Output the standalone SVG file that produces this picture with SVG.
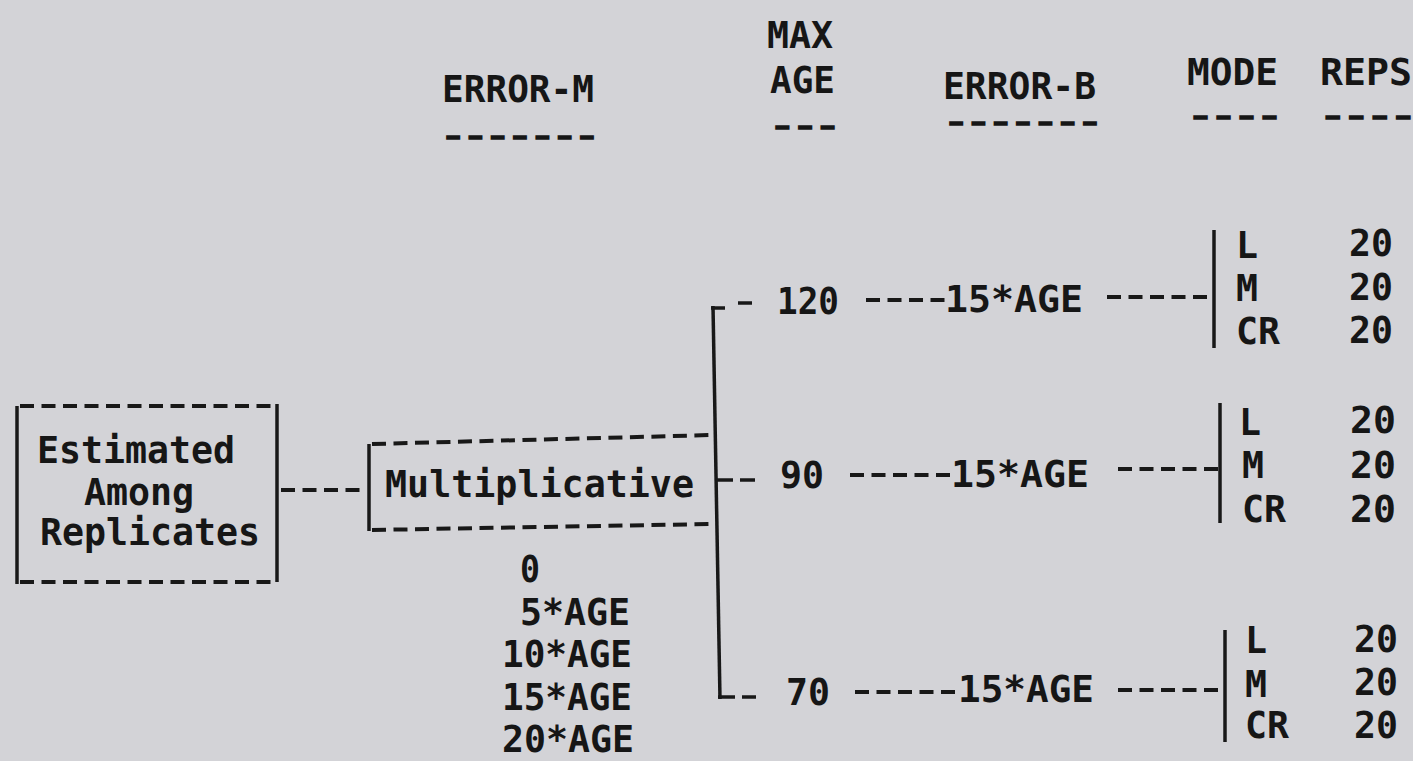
<svg xmlns="http://www.w3.org/2000/svg" width="1413" height="761" viewBox="0 0 1413 761">
  <style>
    .t { font-family: "DejaVu Sans Mono", "Liberation Mono", monospace; font-size: 38px; font-weight: bold; fill: #161616; }
    .u { font-family: "DejaVu Sans Mono", "Liberation Mono", monospace; font-size: 22px; font-weight: bold; fill: #161616; stroke: #161616; stroke-width: 1.6; }
    .solid { stroke: #181818; stroke-width: 3.5; fill: none; }
    .dash { stroke: #181818; stroke-width: 4; fill: none; stroke-dasharray: 14 7.5; }
  </style>
  <rect x="0" y="0" width="1413" height="761" fill="#d3d3d7"/>

  <g id="headers">
    <text class="t" x="442" y="102" textLength="152" lengthAdjust="spacingAndGlyphs">ERROR-M</text>
    <text class="u" x="442" y="144" textLength="156" lengthAdjust="spacingAndGlyphs">-------</text>
    <text class="t" x="767" y="48" textLength="66" lengthAdjust="spacingAndGlyphs">MAX</text>
    <text class="t" x="770" y="93" textLength="65" lengthAdjust="spacingAndGlyphs">AGE</text>
    <text class="u" x="771" y="134" textLength="68" lengthAdjust="spacingAndGlyphs">---</text>
    <text class="t" x="943" y="99" textLength="153" lengthAdjust="spacingAndGlyphs">ERROR-B</text>
    <text class="u" x="945" y="130" textLength="156" lengthAdjust="spacingAndGlyphs">-------</text>
    <text class="t" x="1187" y="85" textLength="91" lengthAdjust="spacingAndGlyphs">MODE</text>
    <text class="u" x="1189" y="124" textLength="92" lengthAdjust="spacingAndGlyphs">----</text>
    <text class="t" x="1320" y="85" textLength="92" lengthAdjust="spacingAndGlyphs">REPS</text>
    <text class="u" x="1321" y="124" textLength="94" lengthAdjust="spacingAndGlyphs">----</text>
  </g>

  <g id="node-estimated">
    <line class="dash" x1="20" y1="406" x2="277" y2="406"/>
    <line class="dash" x1="20" y1="582" x2="277" y2="582"/>
    <line class="solid" x1="17" y1="406" x2="17" y2="584"/>
    <line class="solid" x1="277" y1="404" x2="277" y2="582"/>
    <text class="t" x="37" y="463" textLength="198" lengthAdjust="spacingAndGlyphs">Estimated</text>
    <text class="t" x="84" y="505" textLength="110" lengthAdjust="spacingAndGlyphs">Among</text>
    <text class="t" x="40" y="545" textLength="220" lengthAdjust="spacingAndGlyphs">Replicates</text>
  </g>

  <g id="node-multiplicative">
    <line class="solid" x1="369" y1="444" x2="369" y2="531"/>
    <line class="dash" x1="372" y1="444" x2="713" y2="435"/>
    <line class="dash" x1="372" y1="530" x2="713" y2="524"/>
    <text class="t" x="385" y="497" textLength="309" lengthAdjust="spacingAndGlyphs">Multiplicative</text>
  </g>

  <g id="node-errorm-values">
    <text class="t" x="520" y="582" textLength="20" lengthAdjust="spacingAndGlyphs">0</text>
    <text class="t" x="520" y="625" textLength="110" lengthAdjust="spacingAndGlyphs">5*AGE</text>
    <text class="t" x="502" y="667" textLength="130" lengthAdjust="spacingAndGlyphs">10*AGE</text>
    <text class="t" x="502" y="710" textLength="130" lengthAdjust="spacingAndGlyphs">15*AGE</text>
    <text class="t" x="502" y="752" textLength="132" lengthAdjust="spacingAndGlyphs">20*AGE</text>
  </g>

  <g id="node-120">
    <text class="t" x="777" y="314" textLength="62" lengthAdjust="spacingAndGlyphs">120</text>
    <text class="t" x="945" y="312" textLength="138" lengthAdjust="spacingAndGlyphs">15*AGE</text>
  </g>
  <g id="node-90">
    <text class="t" x="780" y="488" textLength="44" lengthAdjust="spacingAndGlyphs">90</text>
    <text class="t" x="951" y="487" textLength="138" lengthAdjust="spacingAndGlyphs">15*AGE</text>
  </g>
  <g id="node-70">
    <text class="t" x="786" y="705" textLength="44" lengthAdjust="spacingAndGlyphs">70</text>
    <text class="t" x="958" y="702" textLength="136" lengthAdjust="spacingAndGlyphs">15*AGE</text>
  </g>

  <g id="node-modes-120">
    <line class="solid" x1="1214" y1="230" x2="1214" y2="348"/>
    <text class="t" x="1236" y="258" textLength="22" lengthAdjust="spacingAndGlyphs">L</text>
    <text class="t" x="1236" y="301" textLength="22" lengthAdjust="spacingAndGlyphs">M</text>
    <text class="t" x="1236" y="344" textLength="44" lengthAdjust="spacingAndGlyphs">CR</text>
    <text class="t" x="1349" y="256" textLength="44" lengthAdjust="spacingAndGlyphs">20</text>
    <text class="t" x="1349" y="300" textLength="44" lengthAdjust="spacingAndGlyphs">20</text>
    <text class="t" x="1349" y="343" textLength="44" lengthAdjust="spacingAndGlyphs">20</text>
  </g>
  <g id="node-modes-90">
    <line class="solid" x1="1220" y1="403" x2="1220" y2="523"/>
    <text class="t" x="1239" y="435" textLength="22" lengthAdjust="spacingAndGlyphs">L</text>
    <text class="t" x="1242" y="478" textLength="22" lengthAdjust="spacingAndGlyphs">M</text>
    <text class="t" x="1242" y="522" textLength="44" lengthAdjust="spacingAndGlyphs">CR</text>
    <text class="t" x="1350" y="433" textLength="46" lengthAdjust="spacingAndGlyphs">20</text>
    <text class="t" x="1350" y="478" textLength="46" lengthAdjust="spacingAndGlyphs">20</text>
    <text class="t" x="1350" y="522" textLength="46" lengthAdjust="spacingAndGlyphs">20</text>
  </g>
  <g id="node-modes-70">
    <line class="solid" x1="1225" y1="630" x2="1225" y2="742"/>
    <text class="t" x="1245" y="653" textLength="22" lengthAdjust="spacingAndGlyphs">L</text>
    <text class="t" x="1245" y="697" textLength="22" lengthAdjust="spacingAndGlyphs">M</text>
    <text class="t" x="1245" y="738" textLength="44" lengthAdjust="spacingAndGlyphs">CR</text>
    <text class="t" x="1354" y="652" textLength="44" lengthAdjust="spacingAndGlyphs">20</text>
    <text class="t" x="1354" y="695" textLength="44" lengthAdjust="spacingAndGlyphs">20</text>
    <text class="t" x="1354" y="738" textLength="44" lengthAdjust="spacingAndGlyphs">20</text>
  </g>

  <g id="connectors">
    <line class="dash" x1="281" y1="490" x2="366" y2="490"/>
    <line class="solid" x1="713" y1="306" x2="720" y2="699"/>
    <line class="solid" x1="711" y1="308" x2="725" y2="308"/>
    <line class="solid" x1="738" y1="303" x2="752" y2="303"/>
    <line class="solid" x1="716" y1="480" x2="733" y2="480"/>
    <line class="solid" x1="740" y1="480" x2="755" y2="480"/>
    <line class="solid" x1="718" y1="697" x2="735" y2="697"/>
    <line class="solid" x1="742" y1="697" x2="756" y2="697"/>
    <line class="dash" x1="866" y1="300" x2="945" y2="300"/>
    <line class="dash" x1="850" y1="475" x2="952" y2="475"/>
    <line class="dash" x1="855" y1="692" x2="959" y2="692"/>
    <line class="dash" x1="1107" y1="297" x2="1214" y2="297"/>
    <line class="dash" x1="1118" y1="469" x2="1220" y2="469"/>
    <line class="dash" x1="1118" y1="690" x2="1225" y2="690"/>
  </g>
</svg>
